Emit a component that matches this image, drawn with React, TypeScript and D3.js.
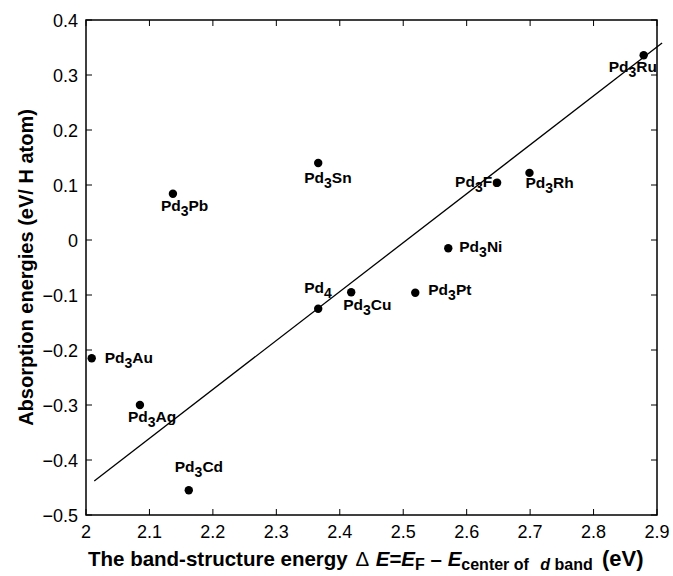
import React from "react";
import * as d3 from "d3";

// compounds Pd3X (the "4" entry is Pd4)
const names = ["Ru", "Fe", "Rh", "Ni", "Pt", "Cu", "4", "Sn", "Pb", "Au", "Ag", "Cd"];
const xValues = [2.879, 2.648, 2.699, 2.571, 2.519, 2.418, 2.366, 2.366, 2.137, 2.009, 2.085, 2.162];
const yValues = [0.336, 0.104, 0.122, -0.015, -0.096, -0.095, -0.125, 0.14, 0.084, -0.215, -0.3, -0.455];

// fitted line end points
const fitX = [2.013, 2.908];
const fitY = [-0.438, 0.358];

const xTicks = [2, 2.1, 2.2, 2.3, 2.4, 2.5, 2.6, 2.7, 2.8, 2.9];
const yTicks = [0.4, 0.3, 0.2, 0.1, 0, -0.1, -0.2, -0.3, -0.4, -0.5];

// label offsets from the dot in px (start x, baseline y)
const labelOffsets: [number, number][] = [
  [-35, 17], [-42, 4], [-4, 15], [11, 4], [13, 2], [-8, 18], [-14, -16], [-14, 20], [-12, 17], [13, 5], [-12, 17], [-14, -18],
];

const W = 673;
const H = 576;
const margin = { left: 86, right: 16, top: 20, bottom: 61 };

export default function App() {
  const x = d3.scaleLinear().domain([2, 2.9]).range([margin.left, W - margin.right]);
  const y = d3.scaleLinear().domain([-0.5, 0.4]).range([H - margin.bottom, margin.top]);
  const fmt = d3.format("");
  const fitLine = d3.line<number>().x((d) => x(fitX[d])).y((d) => y(fitY[d]));

  const x0 = x(2), x1 = x(2.9), y0 = y(-0.5), y1 = y(0.4);
  const tick = 6;
  const font = "'Liberation Sans', Arial, Helvetica, sans-serif";

  return (
    <svg width={W} height={H} style={{ position: "absolute", left: 0, top: 0, background: "#fff" }} fontFamily={font}>
      <rect x={0} y={0} width={W} height={H} fill="#fff" />
      {/* axes box */}
      <rect x={x0} y={y1} width={x1 - x0} height={y0 - y1} fill="none" stroke="#000" strokeWidth={1.5} />
      {xTicks.map((t) => (
        <g key={"x" + t}>
          <line x1={x(t)} x2={x(t)} y1={y0} y2={y0 - tick} stroke="#000" />
          <line x1={x(t)} x2={x(t)} y1={y1} y2={y1 + tick} stroke="#000" />
          <text x={x(t)} y={y0 + 23} textAnchor="middle" fontSize={18}>{fmt(t)}</text>
        </g>
      ))}
      {yTicks.map((t) => (
        <g key={"y" + t}>
          <line x1={x0} x2={x0 + tick} y1={y(t)} y2={y(t)} stroke="#000" />
          <line x1={x1} x2={x1 - tick} y1={y(t)} y2={y(t)} stroke="#000" />
          <text x={x0 - 8} y={y(t) + 6.5} textAnchor="end" fontSize={18}>{fmt(t)}</text>
        </g>
      ))}
      {/* regression line */}
      <path d={fitLine([0, 1]) || ""} fill="none" stroke="#000" strokeWidth={1.3} />
      {/* labels */}
      {names.map((n, i) => {
        const [dx, dy] = labelOffsets[i];
        return (
          <text key={"l" + n} x={x(xValues[i]) + dx} y={y(yValues[i]) + dy} fontSize={15.5} fontWeight="bold">
            Pd
            {n === "4" ? (
              <tspan dy={5} fontSize={14}>4</tspan>
            ) : (
              <>
                <tspan dy={5} fontSize={14}>3</tspan>
                <tspan dy={-5}>{n}</tspan>
              </>
            )}
          </text>
        );
      })}
      {/* dots */}
      {names.map((n, i) => (
        <circle key={"c" + n} cx={x(xValues[i])} cy={y(yValues[i])} r={4.2} fill="#000" />
      ))}
      {/* axis titles */}
      <text transform={`translate(33,${(y0 + y1) / 2}) rotate(-90)`} textAnchor="middle" fontSize={20} fontWeight="bold">
        Absorption energies (eV/ H atom)
      </text>
      <text x={88} y={566} fontSize={20.5} fontWeight="bold">
        The band-structure energy
        <tspan fontWeight="normal" dx={2}> Δ </tspan>
        <tspan fontStyle="italic" dx={2}>E</tspan>=<tspan fontStyle="italic">E</tspan>
        <tspan dy={4} fontSize={16}>F</tspan>
        <tspan dy={-4}> – </tspan>
        <tspan fontStyle="italic">E</tspan>
        <tspan dy={4} fontSize={16}>center of </tspan>
        <tspan fontSize={16} fontStyle="italic" dx={7}> d</tspan>
        <tspan fontSize={16}> band</tspan>
        <tspan dy={-4} fontSize={22} dx={3}> (eV)</tspan>
      </text>
    </svg>
  );
}
